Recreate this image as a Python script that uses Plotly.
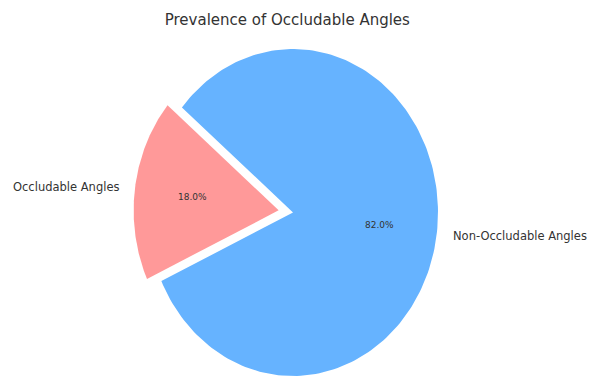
import numpy as np
import plotly.graph_objects as go

# Pie data
labels = ["Occludable Angles", "Non-Occludable Angles"]
sizes = [18.0, 82.0]
colors = ["#ff9999", "#66b3ff"]
explode = [0.1, 0.0]
start_angle = 140  # degrees, wedges run counter-clockwise
title = "Prevalence of Occludable Angles"

W, H = 590, 377
# unit-circle pie mapped into pixel space (non-equal aspect)
cx_px, cy_px, rx_px, ry_px = 293, 212.5, 145, 163.5
x_range = [(0 - cx_px) / rx_px, (W - cx_px) / rx_px]
y_range = [(cy_px - H) / ry_px, (cy_px - 0) / ry_px]

fig = go.Figure()
annotations = []
total = sum(sizes)
theta = start_angle
for lab, val, col, ex in zip(labels, sizes, colors, explode):
    span = 360.0 * val / total
    t1, t2 = theta, theta + span
    mid = np.deg2rad((t1 + t2) / 2)
    ox, oy = ex * np.cos(mid), ex * np.sin(mid)
    ang = np.deg2rad(np.linspace(t1, t2, 200))
    xs = np.concatenate([[ox], ox + np.cos(ang), [ox]])
    ys = np.concatenate([[oy], oy + np.sin(ang), [oy]])
    fig.add_trace(go.Scatter(
        x=xs, y=ys, mode="lines", fill="toself", fillcolor=col,
        line=dict(color=col, width=0), hoverinfo="skip", showlegend=False,
    ))
    # outer category label
    lx, ly = ox + 1.1 * np.cos(mid), oy + 1.1 * np.sin(mid)
    annotations.append(dict(
        x=lx, y=ly, xref="x", yref="y", text=lab, showarrow=False,
        xanchor="left" if lx > 0 else "right", yanchor="middle",
        font=dict(family="DejaVu Sans", size=11.5, color="#333333"),
    ))
    # percentage inside wedge
    px, py = ox + 0.6 * np.cos(mid), oy + 0.6 * np.sin(mid)
    annotations.append(dict(
        x=px, y=py, xref="x", yref="y", text=f"{val / total * 100:.1f}%",
        showarrow=False, xanchor="center", yanchor="middle",
        font=dict(family="DejaVu Sans", size=9, color="#333333"),
    ))
    theta = t2

fig.update_layout(
    width=W, height=H,
    margin=dict(l=0, r=0, t=0, b=0),
    paper_bgcolor="white", plot_bgcolor="white",
    xaxis=dict(range=x_range, visible=False, fixedrange=True),
    yaxis=dict(range=y_range, visible=False, fixedrange=True),
    title=dict(text=title, x=0.487, xanchor="center", y=1 - 20 / H,
               yanchor="middle", yref="container",
               font=dict(family="DejaVu Sans", size=15, color="#333333")),
    annotations=annotations,
)

fig.write_html("out.html")
